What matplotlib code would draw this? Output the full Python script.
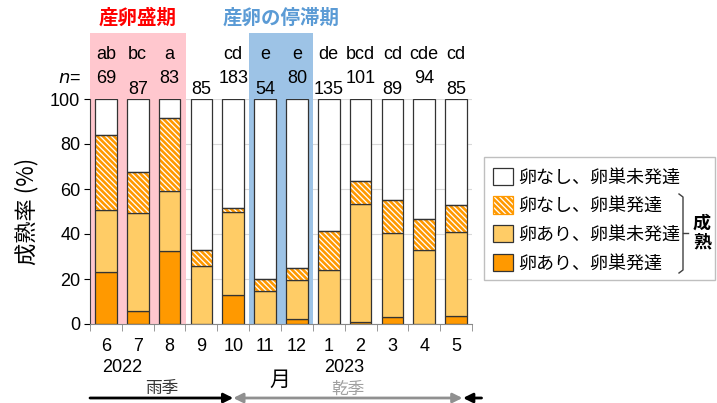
import numpy as np
import matplotlib
matplotlib.use("Agg")
import matplotlib.pyplot as plt
import matplotlib.patches as patches
from matplotlib.lines import Line2D

plt.rcParams['font.family'] = ['Liberation Sans', 'Noto Sans CJK JP', 'DejaVu Sans']
plt.rcParams['hatch.linewidth'] = 1.9

# data (% of females per month)
months = ["6", "7", "8", "9", "10", "11", "12", "1", "2", "3", "4", "5"]
n_counts = [69, 87, 83, 85, 183, 54, 80, 135, 101, 89, 94, 85]
letters = ["ab", "bc", "a", "", "cd", "e", "e", "de", "bcd", "cd", "cde", "cd"]
egg_dev = [23.0, 5.7, 32.3, 0.0, 12.7, 0.0, 2.1, 0.0, 0.9, 3.0, 0.0, 3.4]          # 卵あり、卵巣発達
egg_undev = [27.5, 43.5, 26.7, 25.6, 36.9, 14.5, 17.6, 24.2, 52.3, 37.3, 32.7, 37.6]  # 卵あり、卵巣未発達
noegg_dev = [33.5, 18.5, 32.4, 7.1, 1.8, 5.5, 5.0, 17.0, 10.2, 14.7, 14.0, 11.7]     # 卵なし、卵巣発達
noegg_undev = [16.0, 32.3, 8.6, 67.3, 48.6, 80.0, 75.3, 58.8, 36.6, 45.0, 53.3, 47.3]  # 卵なし、卵巣未発達
labels = ["卵なし、卵巣未発達", "卵なし、卵巣発達", "卵あり、卵巣未発達", "卵あり、卵巣発達"]

DARK = "#FF9900"
LIGHT = "#FFCC66"
EDGE = "#333333"
HATCH = "\\" * 6

W, H = 717, 403
fig = plt.figure(figsize=(W / 100, H / 100), dpi=100)
ax = fig.add_axes([90 / W, 1 - 324 / H, (472 - 90) / W, (324 - 99) / H])

x = np.arange(len(months))
bw = 0.68
b1 = np.array(egg_dev)
b2 = b1 + np.array(egg_undev)
b3 = b2 + np.array(noegg_dev)

# shaded periods
ax.add_patch(patches.Rectangle((-0.5, 0), 3, 129.3, facecolor="#FFC7CE", edgecolor="none",
                               zorder=0.8, clip_on=False))
ax.add_patch(patches.Rectangle((4.5, 0), 2, 129.3, facecolor="#9DC3E6", edgecolor="none",
                               zorder=0.8, clip_on=False))
ax.text(1.0, 136, "産卵盛期", color="#FF0000", fontsize=14, fontweight="bold",
        ha="center", va="center", family=['Noto Sans CJK JP'])
ax.text(5.5, 136, "産卵の停滞期", color="#5B9BD5", fontsize=14, fontweight="bold",
        ha="center", va="center", family=['Noto Sans CJK JP'])

ax.bar(x, egg_dev, bw, color=DARK, edgecolor=EDGE, lw=0.9, zorder=2)
ax.bar(x, egg_undev, bw, bottom=b1, color=LIGHT, edgecolor=EDGE, lw=0.9, zorder=2)
ax.bar(x, noegg_dev, bw, bottom=b2, color="white", edgecolor=DARK, hatch=HATCH, lw=0, zorder=2)
ax.bar(x, noegg_dev, bw, bottom=b2, fill=False, edgecolor=EDGE, lw=0.9, zorder=2.1)
ax.bar(x, noegg_undev, bw, bottom=b3, color="white", edgecolor=EDGE, lw=0.9, zorder=2)

# letters and sample sizes
for i in x:
    ax.text(i, 119.6, letters[i], ha="center", va="center", fontsize=13)
    ny = 108.9 if i % 2 == 0 else 104.4
    ax.text(i, ny, str(n_counts[i]), ha="center", va="center", fontsize=13)
ax.text(-1.15, 108.9, "$n$=", ha="center", va="center", fontsize=13)

ax.set_xlim(-0.5, len(months) - 0.5)
ax.set_ylim(0, 100)
ax.set_yticks(range(0, 101, 20))
ax.set_xticks(x)
ax.set_xticklabels(months)
ax.set_xticks(np.arange(-0.5, len(months)), minor=True)
ax.tick_params(axis="x", which="major", length=0, pad=10, labelsize=13)
ax.tick_params(axis="x", which="minor", length=5, color="#888888")
ax.tick_params(axis="y", length=4, labelsize=13, pad=3)
ax.grid(axis="y", color="#D9D9D9", lw=0.8, zorder=0.5)
ax.set_axisbelow(True)
for s in ["top", "right"]:
    ax.spines[s].set_visible(False)
ax.spines["bottom"].set_color("#888888")
ax.spines["left"].set_color("#404040")
ax.set_ylabel("成熟率 (%)", fontsize=16, labelpad=8, family=['Noto Sans CJK JP'])

# year, month, season
ax.text(0.5, -0.195, "2022", transform=ax.get_xaxis_transform(), ha="center", va="center", fontsize=13)
ax.text(7.5, -0.195, "2023", transform=ax.get_xaxis_transform(), ha="center", va="center", fontsize=13)
ax.annotate("月", (5.47, 23), xycoords=("data", "figure pixels"), ha="center", va="center",
            fontsize=15, annotation_clip=False)
ax.annotate("雨季", (1.76, 14), xycoords=("data", "figure pixels"), ha="center", va="center",
            fontsize=12, color="#333333", annotation_clip=False)
ax.annotate("乾季", (7.6, 14), xycoords=("data", "figure pixels"), ha="center", va="center",
            fontsize=12, color="#A0A0A0", annotation_clip=False)
ax.annotate("", xy=(4.0, 5), xytext=(-0.5, 5), xycoords=("data", "figure pixels"),
            textcoords=("data", "figure pixels"), annotation_clip=False,
            arrowprops=dict(arrowstyle="-|>", color="black", lw=2, mutation_scale=14,
                            shrinkA=0, shrinkB=0))
ax.annotate("", xy=(11.2, 5), xytext=(4.0, 5), xycoords=("data", "figure pixels"),
            textcoords=("data", "figure pixels"), annotation_clip=False,
            arrowprops=dict(arrowstyle="<|-|>", color="#909090", lw=2, mutation_scale=14,
                            shrinkA=0, shrinkB=0))
ax.annotate("", xy=(11.22, 5), xytext=(11.8, 5), xycoords=("data", "figure pixels"),
            textcoords=("data", "figure pixels"), annotation_clip=False,
            arrowprops=dict(arrowstyle="-|>", color="black", lw=2, mutation_scale=14,
                            shrinkA=0, shrinkB=0))

# legend
handles = [
    patches.Patch(facecolor="white", edgecolor=EDGE, lw=0.9),
    patches.Patch(facecolor="white", edgecolor=DARK, hatch=HATCH, lw=0.9),
    patches.Patch(facecolor=LIGHT, edgecolor=EDGE, lw=0.9),
    patches.Patch(facecolor=DARK, edgecolor=EDGE, lw=0.9),
]
fig.legend(handles, labels, loc="upper left", bbox_to_anchor=(480 / W, 1 - 155 / H),
           frameon=False, handlelength=1.1, handleheight=1.1,
           handletextpad=0.3, labelspacing=0.55, borderpad=0.2,
           prop={'family': ['Noto Sans CJK JP'], 'size': 13})
fig.patches.append(patches.Rectangle((484 / W, 1 - 280 / H), (715 - 484) / W, (280 - 157) / H,
                                     transform=fig.transFigure, fill=False, edgecolor="#BFBFBF",
                                     lw=1))
bx = 683
fig.add_artist(Line2D([(bx - 4) / W, bx / W, bx / W, (bx - 4) / W],
                      [1 - 194 / H, 1 - 197 / H, 1 - 270 / H, 1 - 273 / H],
                      transform=fig.transFigure, color="#404040", lw=1))
fig.add_artist(Line2D([bx / W, (bx + 5) / W], [1 - 233 / H, 1 - 233 / H],
                      transform=fig.transFigure, color="#404040", lw=1))
fig.text(702 / W, 1 - 233 / H, "成\n熟", ha="center", va="center", fontsize=13,
         fontweight="bold", linespacing=1.0, family=['Noto Sans CJK JP'])

fig.savefig("out.png", dpi=100)
